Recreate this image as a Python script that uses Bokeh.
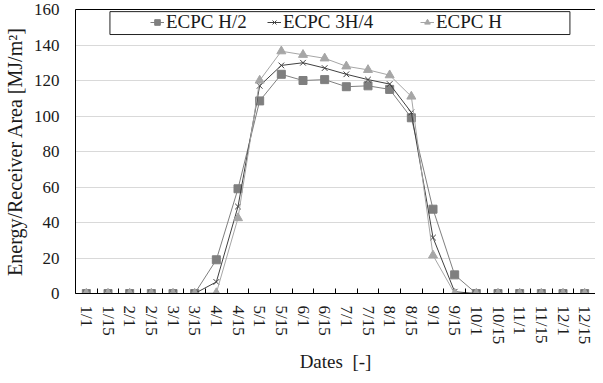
from bokeh.plotting import figure
from bokeh.models import (FixedTicker, Legend, LegendItem, Range1d, BoxAnnotation,
                          LinearAxis)
from bokeh.embed import file_html
from bokeh.resources import INLINE

dates = ["1/1", "1/15", "2/1", "2/15", "3/1", "3/15", "4/1", "4/15", "5/1", "5/15",
         "6/1", "6/15", "7/1", "7/15", "8/1", "8/15", "9/1", "9/15", "10/1", "10/15",
         "11/1", "11/15", "12/1", "12/15"]
ecpc_h2 = [0, 0, 0, 0, 0, 0, 19, 59, 108.5, 123.5, 120, 120.5, 116.5, 117, 115, 99,
           47.5, 10.5, 0, 0, 0, 0, 0, 0]
ecpc_3h4 = [0, 0, 0, 0, 0, 0, 6.5, 49, 117, 128.5, 130, 127, 123.5, 120.5, 118, 102,
            31.5, 1, 0, 0, 0, 0, 0, 0]
ecpc_h = [0, 0, 0, 0, 0, 0, 0.3, 42.5, 120, 136.5, 134.5, 132.5, 128, 126, 123, 111,
          21.5, 0, 0, 0, 0, 0, 0, 0]
y_ticks = [0, 20, 40, 60, 80, 100, 120, 140, 160]

FONT = "Liberation Serif"
TXT = "#1a1a1a"
x = list(range(len(dates)))

p = figure(width=595, height=375, output_backend="svg", toolbar_location=None,
           x_range=Range1d(-0.5, len(dates) - 0.5), y_range=Range1d(0, 160),
           min_border_left=67, min_border_right=0, min_border_top=9, min_border_bottom=81)
p.background_fill_color = "white"
p.outline_line_color = None

c_h2 = "#7f7f7f"
c_3h4 = "#404040"
c_h = "#a6a6a6"

# legend frame (decoration, placed in plot units)
p.add_layout(BoxAnnotation(left=1.09, right=22.32, bottom=145.9, top=158.8,
                           fill_color="white", fill_alpha=1,
                           line_color="#222222", line_width=1, line_alpha=1))

l1 = p.line(x, ecpc_h2, line_color=c_h2, line_width=1)
s1 = p.scatter(x, ecpc_h2, marker="square", size=8, fill_color=c_h2, line_color=c_h2)
l2 = p.line(x, ecpc_3h4, line_color=c_3h4, line_width=1)
s2 = p.scatter(x, ecpc_3h4, marker="x", size=8, line_color=c_3h4, line_width=1)
l3 = p.line(x, ecpc_h, line_color=c_h, line_width=1)
s3 = p.scatter(x, ecpc_h, marker="triangle", size=9, fill_color=c_h, line_color=c_h)


def make_legend(items, loc, label_width):
    lg = Legend(items=items, orientation="horizontal", location=loc)
    lg.label_text_font = FONT
    lg.label_text_font_size = "19px"
    lg.label_text_color = TXT
    lg.glyph_width = 14
    lg.glyph_height = 18
    lg.label_standoff = 2
    lg.label_width = label_width
    lg.label_height = 18
    lg.spacing = 0
    lg.padding = 3
    lg.margin = 0
    lg.border_line_color = None
    lg.background_fill_alpha = 0
    return lg


leg_a = make_legend([LegendItem(label="ECPC H/2", renderers=[l1, s1]),
                     LegendItem(label="ECPC 3H/4", renderers=[l2, s2])], (75, 260), 101)
leg_b = make_legend([LegendItem(label="ECPC H", renderers=[l3, s3])], (345, 260), 60)
p.add_layout(leg_a, "center")
p.add_layout(leg_b, "center")

# top border line
top_axis = LinearAxis(ticker=FixedTicker(ticks=[]))
top_axis.axis_line_color = "black"
top_axis.major_tick_line_color = None
top_axis.minor_tick_line_color = None
top_axis.major_label_text_font_size = "0px"
p.add_layout(top_axis, "above")

# x axis
xa = p.below[0]
xa.ticker = FixedTicker(ticks=x, minor_ticks=[i - 0.5 for i in range(len(dates) + 1)])
xa.major_label_overrides = {i: d for i, d in enumerate(dates)}
xa.major_label_orientation = "vertical"
xa.major_tick_line_color = None
xa.minor_tick_in = 5
xa.minor_tick_out = 0
xa.minor_tick_line_color = "black"
xa.axis_line_color = "black"
xa.major_label_text_font = FONT
xa.major_label_text_font_size = "17px"
xa.major_label_text_color = TXT
xa.major_label_standoff = 6
xa.axis_label = "Dates\u00a0\u00a0[-]"
xa.axis_label_text_font = FONT
xa.axis_label_text_font_size = "19px"
xa.axis_label_text_font_style = "normal"
xa.axis_label_text_color = TXT
xa.axis_label_standoff = 4

# y axis
ya = p.left[0]
ya.ticker = FixedTicker(ticks=y_ticks)
ya.major_tick_line_color = None
ya.minor_tick_line_color = None
ya.axis_line_color = "black"
ya.major_label_text_font = FONT
ya.major_label_text_font_size = "17px"
ya.major_label_text_color = TXT
ya.major_label_standoff = 10
ya.axis_label = "Energy/Receiver Area [MJ/m\u00b2]"
ya.axis_label_text_font = FONT
ya.axis_label_text_font_size = "20px"
ya.axis_label_text_font_style = "normal"
ya.axis_label_text_color = TXT
ya.axis_label_standoff = 5

p.xgrid.grid_line_color = None
p.ygrid.ticker = FixedTicker(ticks=y_ticks)
p.ygrid.grid_line_color = "#d9d9d9"

open("out.html", "w").write(file_html(p, INLINE))
